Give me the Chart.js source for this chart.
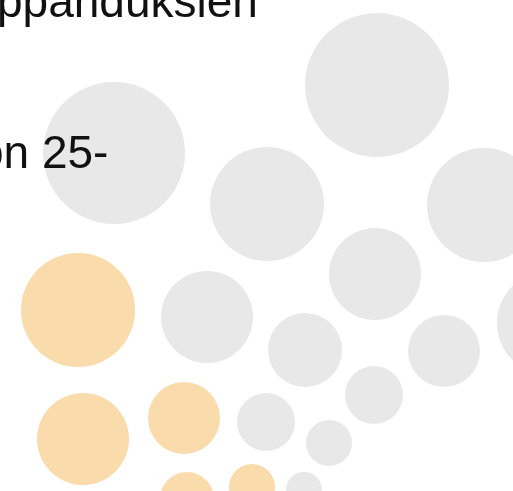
<!DOCTYPE html>
<html>
<head>
<meta charset="utf-8">
<script src="https://cdn.jsdelivr.net/npm/chart.js@4/dist/chart.umd.min.js"></script>
<style>
  html, body { margin: 0; padding: 0; background: #fff; overflow: hidden; }
  canvas { display: block; }
</style>
</head>
<body>
<canvas id="chart" width="513" height="491"></canvas>
<script>
// --- Datos ---
// pallot: keskipiste (x, y) ja säde
const grayX = [114, 377, 267, 484, 375, 549, 207, 305, 444, 374, 266, 329, 304];
const grayY = [153, 85, 204, 205, 274, 323, 317, 350, 351, 395, 422, 443, 490];
const grayR = [71, 72, 57, 57, 46, 52, 46, 37, 36, 29, 29, 23, 18];

const orangeX = [78, 83, 184, 187, 252];
const orangeY = [310, 439, 418, 499, 487];
const orangeR = [57, 46, 36, 27, 23];

const textLines = ['ppanduksien', 'on 25-'];

const W = 513;
const H = 491;

const toPoints = (xs, ys, rs) => xs.map((x, i) => ({ x: x, y: ys[i], r: rs[i] }));

// Chart.js jättää muuten reunaan tilaa suurimman pallon verran;
// kuvassa pallot jatkuvat reunojen yli, joten tila poistetaan.
const BubbleCtrl = Chart.BubbleController || Chart.registry.getController('bubble');
BubbleCtrl.prototype.getMaxOverflow = function () { return 0; };

// --- Teksti piirretään pallojen päälle ---
const textPlugin = {
    id: 'textOverlay',
    afterDatasetsDraw(chart) {
        const ctx = chart.ctx;
        ctx.save();
        ctx.fillStyle = '#111';
        ctx.font = '46px "Liberation Sans", Arial, sans-serif';
        ctx.textBaseline = 'alphabetic';
        ctx.fillText(textLines[0], -3, 17);
        ctx.fillText(textLines[1], -22, 168);
        ctx.restore();
    }
};

new Chart(document.getElementById('chart'), {
    type: 'bubble',
    data: {
        datasets: [
            {
                data: toPoints(grayX, grayY, grayR),
                backgroundColor: '#e8e8e8',
                borderWidth: 0,
                hoverRadius: 0,
                clip: false
            },
            {
                data: toPoints(orangeX, orangeY, orangeR),
                backgroundColor: '#fadbab',
                borderWidth: 0,
                hoverRadius: 0,
                clip: false
            }
        ]
    },
    options: {
        responsive: false,
        animation: false,
        events: [],
        layout: { padding: 0 },
        plugins: {
            legend: { display: false },
            tooltip: { enabled: false }
        },
        scales: {
            x: { type: 'linear', min: 0, max: W, display: false },
            y: { type: 'linear', min: 0, max: H, reverse: true, display: false }
        }
    },
    plugins: [textPlugin]
});
</script>
</body>
</html>
